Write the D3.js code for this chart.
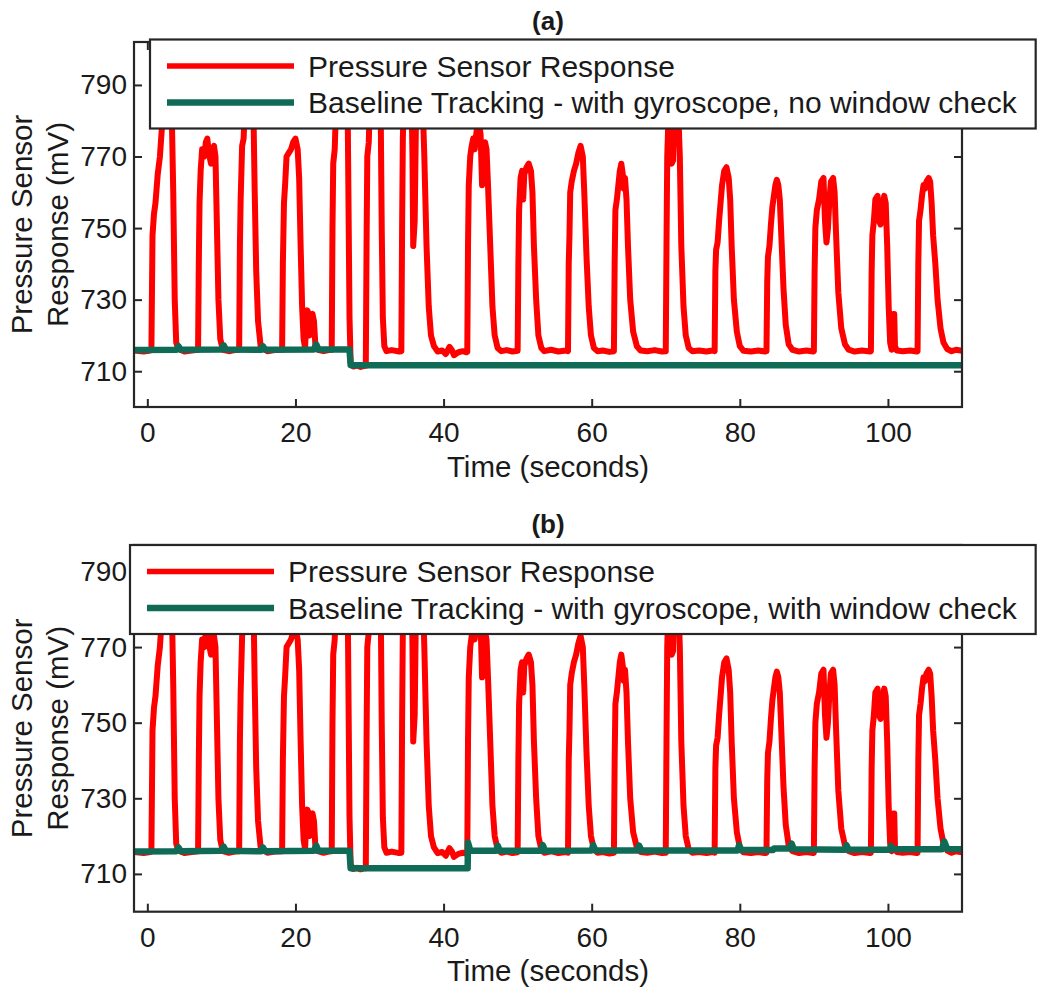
<!DOCTYPE html>
<html><head><meta charset="utf-8">
<script src="https://cdn.jsdelivr.net/npm/d3@7"></script>
<style>
body{margin:0;background:#fff}
text{font-family:"Liberation Sans",Arial,Helvetica,sans-serif;fill:#1a1a1a}
</style>
</head><body>
<svg id="chart" width="1050" height="995"></svg>
<script>
// ---------------- DATA ----------------
const timeTicks = [0, 20, 40, 60, 80, 100];
const mvTicks = [710, 730, 750, 770, 790];
const panelTitles = ["(a)", "(b)"];
const xLabel = "Time (seconds)";
const yLabelLines = ["Pressure Sensor", "Response (mV)"];
const seriesNames = ["Pressure Sensor Response",
  "Baseline Tracking - with gyroscope, no window check",
  "Baseline Tracking - with gyroscope, with window check"];

// pressure sensor response [time s, mV]
const pressure = [
 [-1.8,715.8],[-0.5,715.5],[0.4,715.8],
 [0.55,716],[0.7,748],[0.9,754],[1.1,757],[1.4,765],[1.7,770],[2.0,779],[2.3,786],[2.7,783],[3.0,788],[3.3,782],[3.5,760],[3.7,730],[3.9,718],[4.2,716.2],
 [5.0,715.5],[6.0,715.8],
 [6.85,716],[6.95,740],[7.05,757],[7.2,766],[7.4,772],[7.7,770],[7.9,774],[8.1,775],[8.3,771],[8.6,768],[8.8,772],[9.0,773],[9.2,770],[9.35,755],[9.6,730],[9.85,719],[10.2,716],
 [11.0,715.6],[11.8,715.9],
 [12.4,716],[12.5,745],[12.6,758],[12.8,773],[13.0,775],[13.2,785],[13.6,792],[14.0,790],[14.3,786],[14.5,760],[14.7,738],[14.95,724],[15.3,717],
 [16.2,715.6],[17.2,715.9],
 [18.2,716],[18.3,740],[18.45,757],[18.6,762],[18.8,770],[19.1,771],[19.4,772],[19.7,774],[20.0,775],[20.3,772],[20.5,764],[20.7,745],[20.9,728],[21.1,719],[21.3,716.5],
 [21.45,724],[21.6,727],[21.8,726],[21.9,720],[22.05,725],[22.3,726],[22.5,724],[22.7,717],[23.0,716],
 [23.8,715.6],[24.5,715.9],
 [24.9,716],[25.0,750],[25.1,768],[25.3,772],[25.5,785],[26.0,795],[26.5,797],[27.0,795],[27.15,760],[27.3,725],[27.45,712.5],[27.8,711.3],[28.3,711.6],[28.8,711.2],[29.3,711.5],
 [29.5,711.5],[29.6,745],[29.7,770],[29.9,774],[30.1,790],[30.6,798],[31.2,796],[31.5,785],[31.65,750],[31.8,725],[32.0,717],[32.3,715.6],
 [33.0,715.9],[34.0,715.5],
 [34.3,715.6],[34.4,750],[34.5,775],[34.7,790],[35.2,798],[35.6,796],[35.8,770],[35.9,745],[36.1,752],[36.3,785],[36.7,796],[37.1,790],[37.4,770],[37.7,745],[38.0,728],[38.3,720],[38.7,717],
 [39.2,715.5],[39.8,715.8],[40.3,714.8],[40.8,716.8],[41.1,716],[41.4,714.5],[42.0,715.3],[42.6,715.6],[43.1,715.3],
 [43.2,715.4],[43.3,745],[43.4,762],[43.6,770],[43.8,773],[44.0,775],[44.2,772],[44.4,776],[44.7,781],[45.0,776],[45.2,762],[45.4,770],[45.6,774],[45.8,772],[46.0,762],[46.3,745],[46.6,728],[46.9,720],[47.3,716.5],[47.8,715.6],
 [48.5,715.9],[49.3,715.5],
 [50.0,715.7],[50.1,740],[50.2,755],[50.4,764],[50.6,766],[50.75,758],[50.9,765],[51.2,767],[51.5,768],[51.8,766],[52.0,760],[52.2,745],[52.5,730],[52.8,720],[53.2,716.5],[53.6,715.6],
 [54.5,716],[55.5,715.5],[56.5,715.8],
 [56.8,715.6],[56.9,740],[57.0,748],[57.1,760],[57.3,763],[57.6,766],[57.9,768],[58.2,771],[58.5,773],[58.8,770],[59.0,760],[59.3,742],[59.6,728],[59.9,720],[60.3,716.5],[60.8,715.6],
 [61.5,715.8],[62.4,715.4],
 [63.0,715.6],[63.1,740],[63.2,755],[63.4,758],[63.6,762],[63.8,766],[64.0,768],[64.2,765],[64.35,761],[64.5,764],[64.7,758],[64.9,745],[65.2,730],[65.6,721],[66.1,717],[66.6,715.8],
 [67.5,715.6],[68.5,715.9],[69.5,715.5],
 [70.0,715.6],[70.1,745],[70.2,770],[70.35,780],[70.6,782],[70.8,768],[71.0,769],[71.1,780],[71.4,784],[71.7,782],[71.9,770],[72.1,745],[72.4,728],[72.7,720],[73.1,716.5],[73.6,715.6],
 [74.5,715.8],[75.5,715.5],[76.3,715.8],
 [76.6,715.6],[76.7,738],[76.8,744],[77.0,746],[77.2,752],[77.4,757],[77.6,762],[77.9,766],[78.2,767],[78.5,764],[78.7,758],[78.9,745],[79.2,730],[79.6,721],[80.0,717],[80.5,715.7],
 [81.5,715.5],[82.5,715.8],[83.4,715.5],
 [83.6,715.6],[83.7,735],[83.8,742],[84.0,745],[84.2,751],[84.4,756],[84.6,759],[84.8,762],[85.0,763.5],[85.2,762],[85.4,758],[85.6,748],[85.9,733],[86.2,723],[86.6,717.5],[87.1,716],
 [88.0,715.5],[89.0,715.8],[89.9,715.5],
 [90.0,715.6],[90.1,738],[90.2,750],[90.4,755],[90.7,758],[91.0,763],[91.3,764],[91.5,752],[91.7,746],[91.9,750],[92.1,758],[92.3,763],[92.6,764],[92.8,760],[93.0,748],[93.3,732],[93.7,722],[94.2,717.5],[94.7,716],
 [95.5,715.5],[96.5,715.8],[97.6,715.5],
 [97.7,715.6],[97.8,738],[97.9,748],[98.1,752],[98.3,758],[98.6,759],[98.8,752],[99.0,751],[99.2,756],[99.5,759],[99.7,757],[99.9,745],[100.1,728],[100.3,718],[100.5,716],
 [100.65,717],[100.75,726],[100.85,726],[100.95,717],[101.2,715.8],
 [102.0,715.6],[103.0,715.8],[103.9,715.5],
 [104.0,715.6],[104.1,740],[104.2,752],[104.4,755],[104.6,759],[104.8,762],[105.0,761],[105.2,763],[105.5,764],[105.7,763],[105.9,757],[106.1,748],[106.4,740],[106.7,730],[107.1,722],[107.5,718],[108.0,716.2],
 [108.6,715.6],[109.2,716],[110.0,715.7]
];

// baseline tracking, no window check [time s, mV]
const baselineNoWindow = [
 [-1.8,715.9],[3.9,716],[4.2,717],[4.5,716],[10.0,716.1],[10.3,717.2],[10.6,716.1],
 [15.4,716],[15.6,717],[15.9,716],[22.5,716.1],[22.8,717.5],[23.1,716.1],[27.3,716.1],
 [27.45,711.7],[110,711.7]
];

// baseline tracking, with window check [time s, mV]
const baselineWindow = [
 [-1.8,715.9],[3.9,716],[4.2,717],[4.5,716],[10.0,716.1],[10.3,717.2],[10.6,716.1],
 [15.4,716],[15.6,717],[15.9,716],[22.5,716.1],[22.8,717.5],[23.1,716.1],[27.3,716.1],
 [27.45,711.5],[43.25,711.5],[43.3,718.3],[43.6,716.2],
 [47.1,716.1],[47.3,717.5],[47.6,716.1],[53.2,716.1],[53.4,717.6],[53.7,716.1],
 [60.0,716.2],[60.2,717.6],[60.5,716.2],[66.2,716.2],[66.4,717.5],[66.7,716.2],
 [79.7,716.2],[79.9,717.6],[80.2,716.3],[84.5,716.3],[84.6,716.7],[86.8,716.7],[87.0,718],[87.3,716.5],
 [94.2,716.4],[94.4,717.6],[94.7,716.4],[100.2,716.4],[100.4,717.4],[100.7,716.5],
 [107.3,716.5],[107.6,718.6],[108.0,716.6],[110,716.5]
];

// ---------------- DRAW ----------------
const svg = d3.select("#chart");
svg.append("rect").attr("width",1050).attr("height",995).attr("fill","#fff");

const RED = "#ff0000", GREEN = "#0f6b55", AX = "#262626";
const x = d3.scaleLinear().domain([-1.8, 110]).range([134, 962]);

const panels = [
  {title: panelTitles[0], base: baselineNoWindow, name2: seriesNames[1],
   top: 42, bottom: 407, yMax: 802, legend: {x: 150, y: 39.5, h: 89}},
  {title: panelTitles[1], base: baselineWindow, name2: seriesNames[2],
   top: 545, bottom: 911.7, yMax: 797, legend: {x: 130, y: 545, h: 89}}
];

panels.forEach((p, i) => {
  const y = d3.scaleLinear().domain([700, p.yMax]).range([p.bottom, p.top]);
  const g = svg.append("g");
  const clipId = "clip" + i;
  svg.append("clipPath").attr("id", clipId).append("rect")
    .attr("x", 134).attr("y", p.top).attr("width", 962 - 134).attr("height", p.bottom - p.top);

  // axes (inward ticks on all sides)
  const ax = [
    {a: d3.axisBottom(x).tickValues(timeTicks).tickSize(-8).tickSizeOuter(0).tickPadding(15), t: `translate(0,${p.bottom})`},
    {a: d3.axisTop(x).tickValues(timeTicks).tickSize(-8).tickSizeOuter(0).tickFormat(""), t: `translate(0,${p.top})`},
    {a: d3.axisLeft(y).tickValues(mvTicks).tickSize(-8).tickSizeOuter(0).tickPadding(7), t: `translate(134,0)`},
    {a: d3.axisRight(y).tickValues(mvTicks).tickSize(-8).tickSizeOuter(0).tickFormat(""), t: `translate(962,0)`}
  ];
  ax.forEach(o => {
    const ag = g.append("g").attr("transform", o.t).call(o.a);
    ag.select(".domain").remove();
    ag.selectAll(".tick line").attr("stroke", AX).attr("stroke-width", 2);
    ag.selectAll(".tick text").attr("font-size", 28).attr("fill", "#1a1a1a")
      .style("font-family", '"Liberation Sans",Arial,Helvetica,sans-serif');
  });

  // series
  const line = d3.line().x(d => x(d[0])).y(d => y(d[1]));
  const lg = g.append("g").attr("clip-path", `url(#${clipId})`);
  lg.append("path").datum(pressure).attr("d", line).attr("fill", "none")
    .attr("stroke", RED).attr("stroke-width", 6).attr("stroke-linejoin", "round").attr("stroke-linecap", "round");
  lg.append("path").datum(p.base).attr("d", line).attr("fill", "none")
    .attr("stroke", GREEN).attr("stroke-width", 6.5).attr("stroke-linejoin", "round").attr("stroke-linecap", "round");

  // frame
  g.append("rect").attr("x", 134).attr("y", p.top).attr("width", 962 - 134).attr("height", p.bottom - p.top)
    .attr("fill", "none").attr("stroke", AX).attr("stroke-width", 2.2);

  // axis labels
  g.append("text").attr("x", 548).attr("y", p.bottom + 69.5).attr("text-anchor", "middle")
    .attr("font-size", 29.5).text(xLabel);
  const cy = (p.top + p.bottom) / 2;
  [31.7, 68.3].forEach((bx, k) => {
    g.append("text").attr("transform", `translate(${bx},${cy}) rotate(-90)`)
      .attr("text-anchor", "middle").attr("font-size", 29.5).text(yLabelLines[k]);
  });

  // title
  g.append("text").attr("x", 548).attr("y", p.top - 12).attr("text-anchor", "middle")
    .attr("font-size", 26).attr("font-weight", "bold").text(p.title);

  // legend
  const L = p.legend;
  const lgd = g.append("g");
  const box = lgd.append("rect").attr("x", L.x).attr("y", L.y).attr("height", L.h)
    .attr("fill", "#fff").attr("stroke", AX).attr("stroke-width", 2.2);
  const rows = [{n: seriesNames[0], c: RED, w: 5.5}, {n: p.name2, c: GREEN, w: 6.5}];
  let maxEnd = 0;
  rows.forEach((r, k) => {
    const ry = L.y + 26.5 + k * 36.6;
    lgd.append("line").attr("x1", L.x + 17).attr("x2", L.x + 144).attr("y1", ry).attr("y2", ry)
      .attr("stroke", r.c).attr("stroke-width", r.w);
    const t = lgd.append("text").attr("x", L.x + 158).attr("y", ry).attr("dy", "0.36em")
      .attr("font-size", 30).text(r.n);
    maxEnd = Math.max(maxEnd, L.x + 158 + t.node().getComputedTextLength());
  });
  box.attr("width", maxEnd + 19 - L.x);
});
</script>
</body></html>
